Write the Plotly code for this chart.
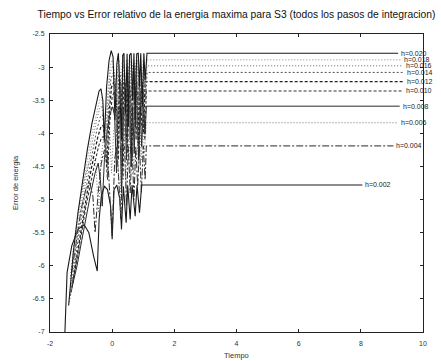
import plotly.graph_objects as go

# ---------------- data ----------------
title_text = "Tiempo vs Error relativo de la energia maxima para S3 (todos los pasos de integracion)"
x_label = "Tiempo"
y_label = "Error de energia"

x_tickvals = [-2, 0, 2, 4, 6, 8, 10]
x_ticktext = ["-2", "0", "2", "4", "6", "8", "10"]
y_tickvals = [-2.5, -3, -3.5, -4, -4.5, -5, -5.5, -6, -6.5, -7]
y_ticktext = ["-2.5", "-3", "-3.5", "-4", "-4.5", "-5", "-5.5", "-6", "-6.5", "-7"]

h_labels = ["h=0.002", "h=0.004", "h=0.006", "h=0.008", "h=0.010",
            "h=0.012", "h=0.014", "h=0.016", "h=0.018", "h=0.020"]

# each series: [tiempo, error] pairs
pts_h002 = [(-1.52, -7.00), (-1.45, -6.10), (-1.30, -5.70), (-1.10, -5.45), (-0.90, -5.38), (-0.75, -5.50),
            (-0.60, -5.85), (-0.48, -6.08), (-0.42, -5.30), (-0.35, -4.95), (-0.25, -4.80), (-0.15, -4.85),
            (-0.05, -5.10), (0.00, -5.60), (0.06, -4.85), (0.15, -4.78), (0.25, -5.00), (0.30, -5.45),
            (0.36, -4.80), (0.45, -5.35), (0.50, -4.79), (0.58, -5.30), (0.64, -4.78), (0.74, -5.25),
            (0.80, -4.78), (0.88, -5.20), (0.95, -4.78), (8.05, -4.78)]

pts_h004 = [(-1.30, -6.10), (-1.15, -5.60), (-1.00, -5.15), (-0.85, -4.85), (-0.72, -4.75), (-0.62, -4.95),
            (-0.55, -5.50), (-0.45, -4.90), (-0.35, -4.45), (-0.25, -4.25), (-0.15, -4.30), (-0.08, -4.90),
            (0.00, -5.55), (0.08, -4.40), (0.14, -4.20), (0.20, -4.60), (0.28, -5.30), (0.34, -4.25),
            (0.40, -4.19), (0.46, -5.10), (0.52, -4.20), (0.58, -4.90), (0.64, -4.19), (0.70, -5.00),
            (0.76, -4.20), (0.82, -4.80), (0.88, -4.19), (0.94, -4.90), (1.00, -4.19), (1.06, -4.70),
            (1.10, -4.19), (9.05, -4.19)]

pts_h006 = [(-1.35, -6.20), (-1.20, -5.55), (-1.05, -5.05), (-0.90, -4.70), (-0.75, -4.45), (-0.62, -4.35),
            (-0.52, -4.50), (-0.44, -5.20), (-0.36, -4.40), (-0.26, -4.00), (-0.16, -3.86), (-0.08, -3.95),
            (-0.02, -4.60), (0.05, -3.95), (0.12, -3.84), (0.18, -4.30), (0.26, -5.20), (0.32, -3.90),
            (0.38, -3.84), (0.44, -4.80), (0.49, -3.86), (0.54, -3.84), (0.59, -4.70), (0.64, -3.84),
            (0.69, -4.60), (0.74, -3.85), (0.79, -3.84), (0.84, -4.50), (0.89, -3.84), (0.94, -4.40),
            (0.99, -3.84), (1.04, -4.30), (1.10, -3.84), (9.20, -3.84)]

pts_h008 = [(-1.28, -6.30), (-1.13, -6.00), (-0.98, -5.62), (-0.83, -5.22), (-0.68, -4.88), (-0.55, -4.60),
            (-0.45, -4.45), (-0.38, -4.70), (-0.32, -5.10), (-0.25, -4.40), (-0.16, -3.95), (-0.07, -3.70),
            (0.02, -3.60), (0.08, -3.75), (0.14, -4.60), (0.19, -3.65), (0.24, -3.59), (0.30, -4.90),
            (0.36, -3.62), (0.41, -3.59), (0.46, -4.40), (0.51, -3.60), (0.56, -3.59), (0.61, -4.50),
            (0.66, -3.59), (0.71, -4.30), (0.75, -3.60), (0.80, -3.59), (0.85, -4.40), (0.90, -3.59),
            (0.95, -4.20), (1.00, -3.59), (1.06, -4.00), (1.10, -3.59), (9.25, -3.59)]

pts_h010 = [(-1.30, -6.35), (-1.15, -5.98), (-1.00, -5.55), (-0.85, -5.12), (-0.70, -4.75), (-0.56, -4.45),
            (-0.44, -4.20), (-0.34, -4.06), (-0.27, -4.05), (-0.21, -4.30), (-0.15, -4.70), (-0.08, -3.85),
            (0.00, -3.45), (0.08, -3.36), (0.14, -3.50), (0.20, -4.40), (0.25, -3.40), (0.30, -3.36),
            (0.35, -4.70), (0.40, -3.38), (0.45, -3.36), (0.50, -4.30), (0.54, -3.37), (0.59, -3.36),
            (0.64, -4.40), (0.68, -3.37), (0.73, -3.36), (0.77, -4.10), (0.82, -3.36), (0.87, -4.30),
            (0.91, -3.36), (0.95, -3.90), (1.00, -3.36), (1.05, -4.10), (1.10, -3.36), (9.35, -3.36)]

pts_h012 = [(-1.32, -6.40), (-1.17, -5.95), (-1.02, -5.48), (-0.87, -5.04), (-0.72, -4.65), (-0.58, -4.32),
            (-0.46, -4.05), (-0.36, -3.90), (-0.29, -3.88), (-0.23, -4.10), (-0.17, -4.50), (-0.10, -3.70),
            (-0.02, -3.30), (0.06, -3.22), (0.12, -3.35), (0.18, -4.20), (0.23, -3.25), (0.28, -3.22),
            (0.32, -4.50), (0.37, -3.24), (0.42, -3.22), (0.47, -4.10), (0.51, -3.23), (0.56, -3.22),
            (0.61, -4.30), (0.65, -3.23), (0.70, -3.22), (0.74, -3.90), (0.79, -3.22), (0.84, -4.15),
            (0.88, -3.22), (0.92, -3.70), (0.97, -3.22), (1.01, -4.00), (1.06, -3.22), (1.12, -3.22),
            (9.40, -3.22)]

pts_h014 = [(-1.34, -6.45), (-1.19, -5.92), (-1.04, -5.42), (-0.89, -4.96), (-0.74, -4.55), (-0.60, -4.20),
            (-0.48, -3.92), (-0.38, -3.75), (-0.31, -3.72), (-0.25, -3.95), (-0.19, -4.40), (-0.12, -3.60),
            (-0.04, -3.18), (0.04, -3.08), (0.10, -3.20), (0.16, -4.10), (0.21, -3.12), (0.26, -3.08),
            (0.31, -4.40), (0.35, -3.10), (0.40, -3.08), (0.45, -4.00), (0.49, -3.09), (0.54, -3.08),
            (0.59, -4.20), (0.63, -3.09), (0.68, -3.08), (0.72, -3.80), (0.77, -3.08), (0.82, -4.05),
            (0.86, -3.08), (0.90, -3.60), (0.95, -3.08), (0.99, -3.90), (1.04, -3.08), (1.08, -3.50),
            (1.12, -3.08), (9.40, -3.08)]

pts_h016 = [(-1.36, -6.50), (-1.21, -5.90), (-1.06, -5.35), (-0.91, -4.88), (-0.76, -4.45), (-0.62, -4.08),
            (-0.50, -3.80), (-0.40, -3.62), (-0.33, -3.58), (-0.27, -3.80), (-0.21, -4.30), (-0.14, -3.50),
            (-0.06, -3.08), (0.02, -2.98), (0.08, -3.10), (0.14, -4.00), (0.19, -3.05), (0.24, -2.98),
            (0.29, -4.30), (0.33, -3.00), (0.38, -2.98), (0.43, -3.90), (0.47, -2.99), (0.52, -2.98),
            (0.57, -4.10), (0.62, -2.99), (0.66, -2.98), (0.71, -3.70), (0.75, -2.98), (0.80, -3.95),
            (0.84, -2.98), (0.89, -3.50), (0.93, -2.98), (0.98, -3.80), (1.02, -2.98), (1.07, -3.40),
            (1.12, -2.98), (9.35, -2.98)]

pts_h018 = [(-1.38, -6.55), (-1.23, -5.85), (-1.08, -5.28), (-0.93, -4.80), (-0.78, -4.35), (-0.63, -3.97),
            (-0.50, -3.68), (-0.40, -3.50), (-0.34, -3.46), (-0.28, -3.65), (-0.22, -4.20), (-0.15, -3.40),
            (-0.07, -3.00), (0.00, -2.89), (0.06, -3.00), (0.12, -3.90), (0.18, -2.95), (0.23, -2.89),
            (0.27, -4.20), (0.32, -2.92), (0.36, -2.89), (0.41, -3.80), (0.46, -2.90), (0.50, -2.89),
            (0.55, -4.00), (0.60, -2.90), (0.64, -2.89), (0.68, -3.60), (0.73, -2.90), (0.78, -3.85),
            (0.82, -2.89), (0.86, -3.40), (0.91, -2.89), (0.96, -3.70), (1.00, -2.89), (1.05, -3.30),
            (1.12, -2.89), (9.30, -2.89)]

pts_h020 = [(-1.40, -6.60), (-1.25, -5.80), (-1.10, -5.20), (-0.95, -4.70), (-0.80, -4.25), (-0.65, -3.85),
            (-0.52, -3.55), (-0.42, -3.36), (-0.36, -3.33), (-0.30, -3.50), (-0.25, -4.10), (-0.18, -3.30),
            (-0.10, -2.90), (-0.03, -2.75), (0.03, -2.85), (0.09, -3.80), (0.15, -2.95), (0.20, -2.79),
            (0.25, -3.40), (0.30, -4.10), (0.34, -2.82), (0.38, -2.79), (0.43, -3.70), (0.48, -2.80),
            (0.52, -3.90), (0.56, -2.82), (0.61, -2.79), (0.66, -3.50), (0.70, -2.79), (0.74, -3.80),
            (0.79, -2.80), (0.84, -2.79), (0.88, -3.30), (0.92, -2.79), (0.97, -3.60), (1.02, -2.79),
            (1.06, -3.20), (1.12, -2.79), (9.20, -2.79)]

series = [pts_h002, pts_h004, pts_h006, pts_h008, pts_h010,
          pts_h012, pts_h014, pts_h016, pts_h018, pts_h020]

# ---------------- styles ----------------
dashes = ["solid", "7px,2px,2px,2px", "1px,2px", "solid", "3px,2px",
          "3px,2px", "2px,2px", "1px,2px", "1px,2px", "solid"]
colors = ["#1a1a1a", "#2a2a2a", "#777777", "#2a2a2a", "#333333",
          "#222222", "#555555", "#666666", "#888888", "#1a1a1a"]
widths = [1.1, 1.0, 1.0, 1.0, 1.1, 1.3, 1.0, 1.0, 1.0, 1.1]

narrow = "Liberation Sans Narrow, Liberation Sans, Arial"
regular = "Liberation Sans, Arial"

fig = go.Figure()
for pts, d, c, w in zip(series, dashes, colors, widths):
    xs = [p[0] for p in pts]
    ys = [p[1] for p in pts]
    fig.add_trace(go.Scatter(x=xs, y=ys, mode="lines",
                             line=dict(color=c, width=w, dash=d),
                             showlegend=False, hoverinfo="skip"))

annots = []
for pts, lab in zip(series, h_labels):
    annots.append(dict(x=pts[-1][0], y=pts[-1][1], xref="x", yref="y", text=lab,
                       showarrow=False, xanchor="left", yanchor="middle", xshift=1,
                       font=dict(family=narrow, size=7, color="#222")))

annots.append(dict(x=0, y=0.5, xref="paper", yref="paper", text=y_label, textangle=-90,
                   showarrow=False, xanchor="center", yanchor="middle", xshift=-35,
                   font=dict(family=regular, size=7.5, color="#333")))
annots.append(dict(x=0.5, y=0, xref="paper", yref="paper", text=x_label,
                   showarrow=False, xanchor="center", yanchor="middle", yshift=-23,
                   font=dict(family=regular, size=7.5, color="#333")))

axis_common = dict(showgrid=False, zeroline=False, showline=True, linecolor="#222",
                   linewidth=1, mirror="ticks", ticks="inside", ticklen=3,
                   tickcolor="#222", tickfont=dict(family=regular, size=7, color="#333"))

fig.update_layout(
    width=441, height=361,
    margin=dict(l=50, r=18, t=34, b=29),
    paper_bgcolor="white", plot_bgcolor="white",
    title=dict(text=title_text, x=0.5, xref="paper", xanchor="center",
               y=1 - 14 / 361, yref="container", yanchor="middle",
               font=dict(family=narrow, size=10.3, color="#111")),
    xaxis=dict(range=[-2, 10], tickvals=x_tickvals, ticktext=x_ticktext,
               ticklabelstandoff=5, **axis_common),
    yaxis=dict(range=[-7, -2.5], tickvals=y_tickvals, ticktext=y_ticktext,
               ticklabelstandoff=3, **axis_common),
    annotations=annots,
)

fig.write_html("out.html", config={"displayModeBar": False},
               post_script="document.body.style.margin='0';")
